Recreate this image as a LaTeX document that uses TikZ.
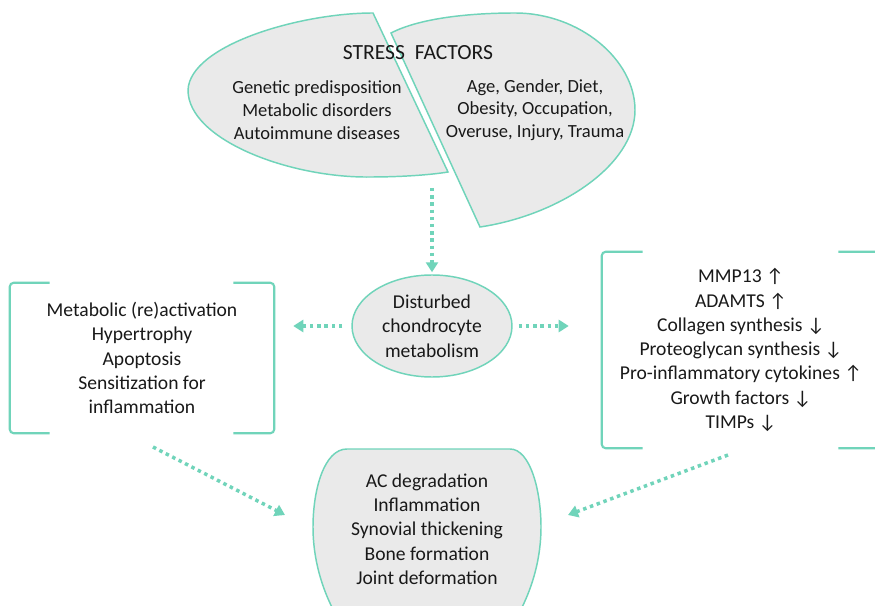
\documentclass[tikz,border=0pt]{standalone}
\usepackage{fontspec}
\setmainfont{Carlito}
\usetikzlibrary{arrows.meta,shapes.geometric}
\definecolor{mint}{RGB}{112,212,186}
\definecolor{shade}{RGB}{234,234,234}
\definecolor{ink}{RGB}{25,25,25}
\begin{document}
\begin{tikzpicture}[x=0.75pt,y=-0.75pt,
  outline/.style={draw=mint,line width=1.1pt,fill=shade},
  bracket/.style={draw=mint,line width=1.6pt,rounded corners=3pt},
  dotarrow/.style={draw=mint,line width=2.6pt,dash pattern=on 2.6pt off 2.8pt,-{Triangle[width=9pt,length=7.5pt]}},
  txt/.style={text=ink,align=center,font=\fontsize{14.7}{18.2}\selectfont,inner sep=0pt},
  toptxt/.style={text=ink,align=center,font=\fontsize{13.9}{17}\selectfont,inner sep=0pt}]
\useasboundingbox (0,0) rectangle (875,606);
\fill[white] (0,0) rectangle (875,606);

% top stress factor shapes
\path[outline] (373,13) .. controls (300,13) and (190,45) .. (188,90)
  .. controls (188,140) and (290,178) .. (370,177)
  .. controls (400,177) and (430,175) .. (448,172) -- cycle;
\path[outline] (391,33) .. controls (420,18) and (470,13) .. (515,13)
  .. controls (580,13) and (635,60) .. (635,110)
  .. controls (635,165) and (560,215) .. (480,227) -- cycle;

\node[text=ink,inner sep=0pt,font=\fontsize{16.2}{19}\selectfont] (stress) at (418,53) {STRESS\ \ FACTORS};
\node[toptxt] (ltop) at (317,110) {Genetic predisposition\\Metabolic disorders\\Autoimmune diseases};
\node[toptxt] (rtop) at (535,110) {Age, Gender, Diet,\\Obesity, Occupation,\\Overuse, Injury, Trauma};

% central ellipse
\node[ellipse,outline,txt,minimum width=120pt,minimum height=76.5pt] (dcm) at (432,326)
  {Disturbed\\chondrocyte\\metabolism};

% left bracket box
\node[txt,minimum width=198pt,minimum height=112.5pt] (lbox) at (142,358)
  {Metabolic (re)activation\\Hypertrophy\\Apoptosis\\Sensitization for\\inflammation};
\draw[bracket] ([xshift=30pt]lbox.north west) -- (lbox.north west) -- (lbox.south west) -- ([xshift=30pt]lbox.south west);
\draw[bracket] ([xshift=-30.75pt]lbox.north east) -- (lbox.north east) -- (lbox.south east) -- ([xshift=-30.75pt]lbox.south east);

% right bracket box
\node[txt,minimum width=208.5pt,minimum height=147pt] (rbox) at (741,350)
  {MMP13 ↑\\ADAMTS ↑\\Collagen synthesis ↓\\Proteoglycan synthesis ↓\\Pro-inflammatory cytokines ↑\\Growth factors ↓\\TIMPs ↓};
\draw[bracket] ([xshift=30.75pt]rbox.north west) -- (rbox.north west) -- (rbox.south west) -- ([xshift=30.75pt]rbox.south west);
\draw[bracket] ([xshift=-31.5pt]rbox.north east) -- (rbox.north east) -- (rbox.south east) -- ([xshift=-31.5pt]rbox.south east);

% bottom outcome shape
\path[outline] (347,449) -- (510,449) .. controls (530,449) and (541,490) .. (541,527)
  .. controls (541,570) and (525,605) .. (512,625) -- (342,625)
  .. controls (329,605) and (313,570) .. (313,527)
  .. controls (313,490) and (324,449) .. (347,449) -- cycle;
\node[txt] (bot) at (427,529) {AC degradation\\Inflammation\\Synovial thickening\\Bone formation\\Joint deformation};

% connectors
\coordinate (topsrc) at (432,188);
\draw[dotarrow,shorten >=1.5pt] (topsrc) -- (dcm.north);
\draw[dotarrow,shorten <=6.75pt,shorten >=14.25pt] (dcm.west) -- (dcm.west -| lbox.east);
\draw[dotarrow,shorten <=4.5pt,shorten >=24.75pt] (dcm.east) -- (dcm.east -| rbox.west);
\coordinate (bl1) at (153,447);
\coordinate (bl2) at (285,515);
\coordinate (br1) at (728,455);
\coordinate (br2) at (568,515);
\draw[dotarrow] (bl1) -- (bl2);
\draw[dotarrow] (br1) -- (br2);
\end{tikzpicture}
\end{document}
